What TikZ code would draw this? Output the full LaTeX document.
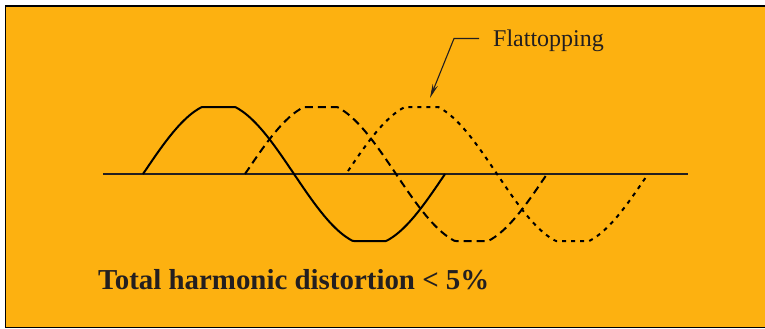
\documentclass[tikz,border=0pt]{standalone}
\usepackage{fontspec}
\setmainfont{Liberation Serif}
\usetikzlibrary{arrows.meta}
\definecolor{bgorange}{RGB}{253,177,16}
\definecolor{ink}{RGB}{35,31,32}
\begin{document}
\begin{tikzpicture}[x=1pt,y=-1pt,
  wave/.style={line width=2pt,black,line join=round},
  axisline/.style={line width=1.3pt,ink},
  callout/.style={line width=1.1pt,ink,-{Stealth[length=14pt,width=5.5pt]}},
  lbl/.style={inner sep=0pt,anchor=base west,text=ink}]
\useasboundingbox (0,0) rectangle (765,329);
\fill[white] (0,0) rectangle (765,329);
\fill[bgorange] (5.5,6) rectangle (768,327.5);
\draw[line width=1.3pt,black] (768,6) -- (5.5,6) -- (5.5,327.5) -- (768,327.5);
% axis
\coordinate (axL) at (103,174);
\coordinate (axR) at (688,174);
\draw[axisline] (axL) -- (axR);
% waves
\draw[wave] plot[domain=143:445,samples=200] (\x,{174-max(-67,min(67,71.2*sin(((\x-143)/302)*360)))});
\draw[wave,dash pattern=on 8pt off 5pt] plot[domain=245:547,samples=200] (\x,{174-max(-67,min(67,71.2*sin(((\x-245)/302)*360)))});
\draw[wave,dash pattern=on 4pt off 5pt] plot[domain=348:648,samples=200] (\x,{174-max(-67,min(67,71.2*sin(((\x-346)/302)*360)))});
% labels
\node[lbl,font=\fontsize{24}{28}\selectfont] (flat) at (493,47) {Flattopping};
\coordinate (bend) at (454,38.5);
\coordinate (tip) at (430,98);
\draw[callout] (flat.west |- bend) ++(-14,0) -- (bend) -- (tip);
\node[lbl,font=\bfseries\fontsize{28.9}{32}\selectfont] (thd) at (98,289) {Total harmonic distortion < 5\%};
\end{tikzpicture}
\end{document}
